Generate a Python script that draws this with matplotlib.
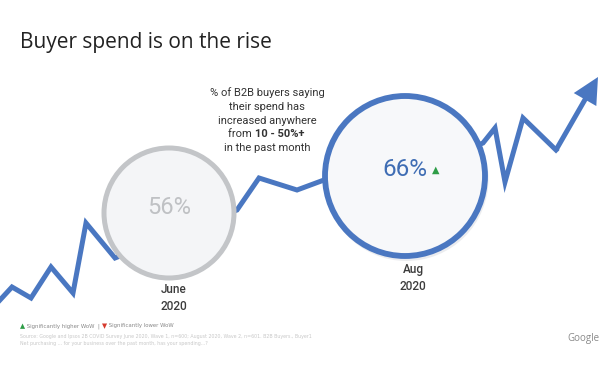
import matplotlib
matplotlib.use("Agg")
import matplotlib.pyplot as plt
from matplotlib.patches import Circle

# --- data (in picture units) ---
line_x = [0, 12, 31, 51, 73, 86, 115, 160, 237, 259, 297, 324, 405, 483, 495, 505, 523, 556]
line_y = [300, 287, 298, 267, 293, 223, 258, 240, 210, 178, 190, 180, 175, 143, 128, 182, 118, 150]
arrow_tip = (598, 77)

months = ["June\n2020", "Aug\n2020"]
values = ["56%", "66%"]
circle_x = [169, 405]
circle_y = [213, 176]
circle_r = [65, 80]

title = "Buyer spend is on the rise"
blue = "#4a77c1"
grey_ring = "#c3c5c8"

fig = plt.figure(figsize=(6, 3.75), dpi=100)
ax = fig.add_axes([0, 0, 1, 1])
ax.set_xlim(0, 600)
ax.set_ylim(375, 0)
ax.axis("off")

ax.plot(line_x, line_y, color=blue, lw=3.6, solid_joinstyle="miter", zorder=2)
ax.arrow(line_x[-1], line_y[-1], arrow_tip[0] - line_x[-1], arrow_tip[1] - line_y[-1],
         width=5, head_width=26, head_length=26, length_includes_head=True,
         color=blue, lw=0, zorder=2)

# June circle
ax.add_patch(Circle((circle_x[0], circle_y[0]), circle_r[0], facecolor="#f4f5f7",
                    edgecolor=grey_ring, lw=3.6, zorder=3))
# Aug circle shadow + circle
ax.add_patch(Circle((circle_x[1] + 1.5, circle_y[1] + 3), circle_r[1] + 2, facecolor="#d8dbe0",
                    edgecolor="none", alpha=0.5, zorder=3))
ax.add_patch(Circle((circle_x[1], circle_y[1]), circle_r[1], facecolor="#f7f8fa",
                    edgecolor=blue, lw=4.2, zorder=4))

ax.text(circle_x[0], circle_y[0] - 5, values[0], ha="center", va="center",
        fontsize=17, color="#bfc1c4", family="Roboto", zorder=5)
ax.text(circle_x[1], circle_y[1] - 6, values[1], ha="center", va="center",
        fontsize=17.5, color="#3f6db4", family="Roboto", zorder=5)
ax.text(circle_x[1] + 31, circle_y[1] - 6, "▲", ha="center", va="center",
        fontsize=7, color="#2e9d47", family="DejaVu Sans", zorder=5)

ax.text(circle_x[0] + 5, 298, months[0], ha="center", va="center", fontsize=8.5,
        color="#3c3c3c", family="Roboto", fontweight="medium", linespacing=1.35)
ax.text(circle_x[1] + 8, 278, months[1], ha="center", va="center", fontsize=8.5,
        color="#3c3c3c", family="Roboto", fontweight="medium", linespacing=1.35)

ax.text(20, 48, title, ha="left", va="baseline", fontsize=15, color="#222222",
        family="Open Sans")

# description text
desc_lines = ["% of B2B buyers saying", "their spend has", "increased anywhere"]
for i, s in enumerate(desc_lines):
    ax.text(267, 93 + i * 13.8, s, ha="center", va="center", fontsize=8,
            color="#333333", family="Roboto")
t_from = ax.text(255, 134.4, "from ", ha="right", va="center", fontsize=8,
                 color="#333333", family="Roboto")
ax.annotate("10 - 50%+", xy=(1, 0), xycoords=t_from, ha="left", va="bottom",
            fontsize=8, color="#333333", family="Roboto", fontweight="bold")
ax.text(267, 148.2, "in the past month", ha="center", va="center", fontsize=8,
        color="#333333", family="Roboto")

# footer
t1 = ax.text(20, 326, "▲", ha="left", va="center", fontsize=4.8, color="#2e9d47")
t2 = ax.annotate(" Significantly higher WoW  | ", xy=(1, 0.5), xycoords=t1, ha="left",
                 va="center", fontsize=3.9, color="#888888")
t3 = ax.annotate("▼", xy=(1, 0.5), xycoords=t2, ha="left", va="center",
                 fontsize=4.8, color="#d63b2f")
ax.annotate(" Significantly lower WoW", xy=(1, 0.5), xycoords=t3, ha="left",
            va="center", fontsize=3.9, color="#888888")
ax.text(20, 340, "Source: Google and Ipsos 2B COVID Survey June 2020, Wave 1, n=600; August 2020, Wave 2, n=601. B2B Buyers., Buyer1\n"
        "Net purchasing ... for your business over the past month, has your spending...?",
        ha="left", va="center", fontsize=3.4, color="#c8c8c8", linespacing=1.4)
ax.text(599, 339, "Google", ha="right", va="center", fontsize=7, color="#8a8a8a",
        family="Open Sans")

fig.savefig("out.png", dpi=100, facecolor="white")
